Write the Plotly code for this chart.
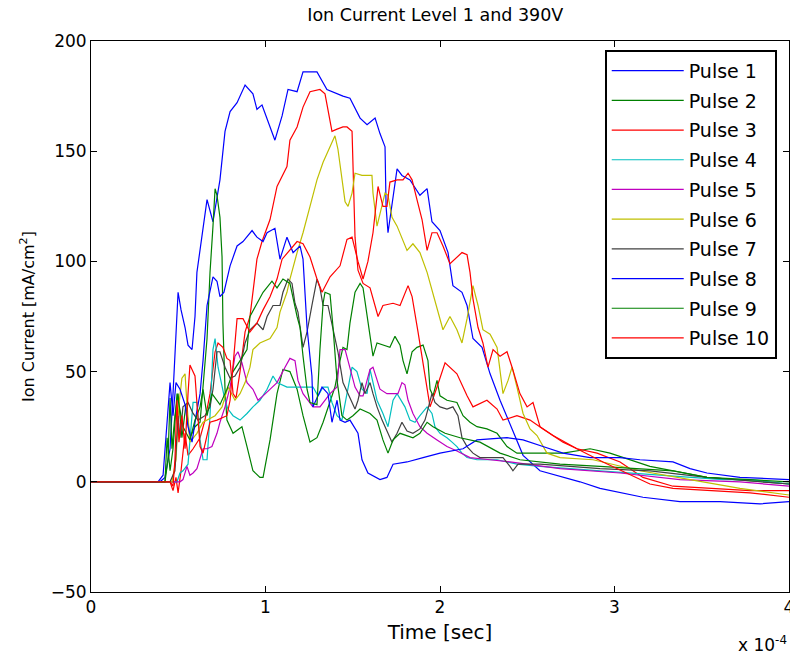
import plotly.graph_objects as go

# time in units of 1e-4 s, current in mA/cm^2
pulse1 = [(0,0),(0.395,0),(0.424,2),(0.453,15),(0.470,40),(0.487,70),(0.499,86),(0.516,78),(0.539,70),(0.556,62),(0.579,60),(0.596,75),(0.607,95),(0.642,115),(0.665,128),(0.699,118),(0.739,137),(0.768,159),(0.797,168),(0.837,172),(0.883,180),(0.928,176),(0.951,169),(0.980,171),(1.009,165),(1.054,155),(1.095,166),(1.129,178),(1.181,177),(1.215,186),(1.295,186),(1.352,178),(1.444,175),(1.484,174),(1.542,165),(1.582,162),(1.628,165),(1.656,158),(1.685,152),(1.691,125),(1.702,113),(1.725,125),(1.754,142),(1.782,139),(1.828,137),(1.885,130),(1.926,133),(1.954,118),(2.000,114),(2.046,104),(2.074,89),(2.126,86),(2.155,80),(2.189,65),(2.241,61),(2.287,49),(2.344,37),(2.413,24),(2.476,12),(2.573,5),(2.705,2),(2.802,0),(2.917,-3),(3.032,-5),(3.163,-7),(3.375,-9),(3.605,-9),(3.834,-10),(4.0,-9)]

pulse2 = [(0,0),(0.424,0),(0.441,10),(0.453,38),(0.464,15),(0.481,30),(0.499,40),(0.521,20),(0.544,35),(0.567,20),(0.596,25),(0.625,27),(0.665,65),(0.682,95),(0.699,116),(0.711,133),(0.722,130),(0.739,120),(0.751,102),(0.756,72),(0.768,42),(0.779,28),(0.814,22),(0.865,25),(0.894,16),(0.928,5),(0.968,2),(0.986,2),(1.026,19),(1.066,40),(1.100,51),(1.140,50),(1.181,42),(1.215,30),(1.255,18),(1.295,20),(1.330,27),(1.370,37),(1.398,43),(1.427,55),(1.444,61),(1.467,60),(1.484,72),(1.513,86),(1.542,90),(1.559,88),(1.582,75),(1.599,65),(1.616,57),(1.639,63),(1.713,61),(1.742,66),(1.771,62),(1.788,55),(1.811,49),(1.840,59),(1.868,61),(1.903,62),(1.931,55),(1.943,42),(1.960,39),(1.983,46),(2.000,39),(2.040,37),(2.097,36),(2.132,30),(2.172,27),(2.212,25),(2.269,24),(2.327,22),(2.384,16),(2.441,13),(2.556,13),(2.705,13),(2.860,15),(2.974,13),(3.203,7),(3.530,2),(4.0,-1)]

pulse3 = [(0,0),(0.453,0),(0.470,-4),(0.487,2),(0.499,-5),(0.516,5),(0.539,22),(0.556,12),(0.585,15),(0.625,20),(0.653,28),(0.682,40),(0.711,59),(0.728,63),(0.756,61),(0.779,56),(0.797,55),(0.814,40),(0.831,38),(0.854,50),(0.883,68),(0.911,75),(0.951,101),(0.980,109),(1.026,119),(1.066,134),(1.123,143),(1.140,155),(1.181,161),(1.215,170),(1.255,177),(1.312,178),(1.341,176),(1.358,168),(1.381,159),(1.410,160),(1.444,161),(1.467,161),(1.496,159),(1.513,111),(1.530,96),(1.559,90),(1.599,88),(1.645,75),(1.673,80),(1.731,81),(1.771,80),(1.817,89),(1.840,84),(1.874,68),(1.914,49),(1.943,34),(1.983,43),(2.029,54),(2.097,49),(2.155,39),(2.189,34),(2.269,37),(2.327,33),(2.361,28),(2.441,30),(2.516,28),(2.590,24),(2.705,18),(2.785,15),(2.900,13),(3.032,9),(3.163,2),(3.335,-2),(3.530,-3),(3.777,-4),(4.0,-4)]

pulse4 = [(0,0),(0.464,0),(0.493,0),(0.510,4),(0.527,5),(0.556,8),(0.573,27),(0.585,36),(0.607,36),(0.625,19),(0.642,10),(0.665,10),(0.682,30),(0.699,60),(0.711,65),(0.728,52),(0.768,37),(0.785,33),(0.814,30),(0.854,28),(0.894,31),(0.928,34),(0.968,37),(1.009,42),(1.043,48),(1.066,45),(1.123,43),(1.181,43),(1.238,43),(1.272,43),(1.301,39),(1.330,43),(1.358,43),(1.381,36),(1.410,30),(1.438,28),(1.467,40),(1.496,52),(1.524,50),(1.553,42),(1.582,40),(1.599,51),(1.639,37),(1.673,31),(1.702,25),(1.731,37),(1.754,40),(1.799,34),(1.828,28),(1.857,27),(1.885,30),(1.926,34),(1.954,31),(1.971,25),(2.000,22),(2.040,20),(2.069,18),(2.097,16),(2.126,13),(2.155,11),(2.212,10),(2.327,10),(2.441,8),(2.573,7),(2.917,5),(3.261,3),(3.622,1),(3.777,1),(4.0,-1)]

pulse5 = [(0,0),(0.510,0),(0.527,1),(0.550,7),(0.567,3),(0.585,4),(0.607,6),(0.625,11),(0.642,15),(0.665,15),(0.693,16),(0.722,22),(0.739,27),(0.768,34),(0.797,43),(0.825,57),(0.842,59),(0.865,54),(0.894,45),(0.928,42),(0.957,37),(0.986,39),(1.026,42),(1.066,45),(1.112,52),(1.140,56),(1.169,55),(1.186,46),(1.215,40),(1.244,37),(1.272,34),(1.312,34),(1.341,37),(1.370,40),(1.410,43),(1.427,60),(1.456,60),(1.484,51),(1.513,43),(1.542,39),(1.559,39),(1.582,46),(1.599,51),(1.616,52),(1.639,46),(1.656,42),(1.696,40),(1.731,40),(1.759,40),(1.782,45),(1.799,44),(1.817,37),(1.845,31),(1.885,25),(1.926,22),(1.983,19),(2.040,16),(2.097,14),(2.172,11),(2.287,10),(2.401,9),(2.688,6),(3.032,4),(3.375,1),(3.719,0),(4.0,-2)]

pulse6 = [(0,0),(0.464,0),(0.487,10),(0.504,35),(0.521,47),(0.539,49),(0.550,35),(0.567,18),(0.607,22),(0.642,27),(0.711,30),(0.751,34),(0.785,43),(0.825,37),(0.854,40),(0.883,45),(0.911,52),(0.928,60),(0.968,63),(1.026,65),(1.066,70),(1.083,77),(1.123,86),(1.140,92),(1.181,104),(1.215,113),(1.255,125),(1.295,137),(1.330,145),(1.370,152),(1.398,157),(1.415,151),(1.438,137),(1.456,127),(1.473,125),(1.496,131),(1.513,140),(1.553,139),(1.610,139),(1.616,131),(1.639,116),(1.656,122),(1.685,131),(1.702,130),(1.725,120),(1.754,116),(1.782,111),(1.811,105),(1.845,108),(1.885,104),(1.926,95),(1.954,87),(1.983,78),(2.017,69),(2.057,75),(2.097,69),(2.126,63),(2.155,74),(2.189,89),(2.218,80),(2.246,69),(2.287,67),(2.327,61),(2.344,51),(2.361,40),(2.390,46),(2.413,52),(2.441,43),(2.476,31),(2.516,24),(2.556,21),(2.613,13),(2.688,11),(2.877,10),(3.146,5),(3.433,1),(3.719,-3),(4.0,-6)]

pulse7 = [(0,0),(0.453,0),(0.481,5),(0.499,30),(0.510,20),(0.527,34),(0.556,36),(0.585,31),(0.613,28),(0.653,30),(0.682,34),(0.699,42),(0.722,59),(0.739,59),(0.768,52),(0.797,47),(0.825,48),(0.854,52),(0.883,63),(0.911,69),(0.951,72),(0.986,69),(1.009,75),(1.043,80),(1.083,80),(1.100,86),(1.129,92),(1.152,90),(1.169,81),(1.186,77),(1.215,61),(1.238,68),(1.266,80),(1.295,92),(1.312,88),(1.330,80),(1.358,80),(1.387,70),(1.415,59),(1.444,45),(1.473,40),(1.496,36),(1.513,33),(1.530,37),(1.553,45),(1.570,40),(1.599,45),(1.616,40),(1.639,34),(1.668,28),(1.685,25),(1.702,22),(1.725,18),(1.754,22),(1.782,27),(1.811,23),(1.845,22),(1.885,24),(1.914,28),(1.931,33),(1.954,40),(1.971,36),(2.000,34),(2.040,33),(2.074,34),(2.103,30),(2.126,20),(2.155,16),(2.189,13),(2.229,11),(2.361,11),(2.401,7),(2.418,5),(2.447,8),(2.573,8),(2.917,6),(3.203,5),(3.530,2),(4.0,-1)]

pulse8 = [(0,0),(0.384,0),(0.413,3),(0.436,25),(0.453,45),(0.470,30),(0.487,45),(0.510,42),(0.539,35),(0.556,25),(0.579,18),(0.602,30),(0.625,40),(0.642,55),(0.665,80),(0.699,93),(0.722,91),(0.739,84),(0.762,86),(0.797,98),(0.837,107),(0.871,109),(0.923,114),(0.951,111),(0.986,109),(1.009,113),(1.054,115),(1.083,101),(1.123,111),(1.158,104),(1.198,107),(1.215,101),(1.238,70),(1.266,48),(1.272,34),(1.324,43),(1.358,40),(1.381,27),(1.410,37),(1.427,28),(1.456,27),(1.484,28),(1.530,22),(1.553,10),(1.587,4),(1.656,1),(1.696,2),(1.731,8),(1.811,9),(1.903,11),(2.000,13),(2.132,15),(2.212,19),(2.384,20),(2.476,19),(2.590,16),(2.705,13),(2.860,11),(3.032,11),(3.146,10),(3.335,9),(3.433,6),(3.530,4),(3.719,2),(4.0,1)]

pulse9 = [(0,0),(0.424,0),(0.436,20),(0.453,5),(0.470,15),(0.493,40),(0.527,25),(0.567,19),(0.596,28),(0.625,34),(0.642,42),(0.665,30),(0.693,40),(0.739,35),(0.779,42),(0.814,50),(0.871,57),(0.894,60),(0.911,75),(0.951,81),(0.986,86),(1.037,91),(1.066,88),(1.100,92),(1.140,90),(1.181,75),(1.198,70),(1.215,57),(1.238,42),(1.255,36),(1.295,35),(1.312,60),(1.330,81),(1.341,86),(1.370,85),(1.387,70),(1.410,46),(1.438,30),(1.467,28),(1.501,30),(1.542,33),(1.599,31),(1.639,28),(1.673,19),(1.702,13),(1.731,19),(1.771,22),(1.845,20),(1.885,22),(1.926,27),(1.960,25),(2.029,22),(2.115,20),(2.229,18),(2.344,13),(2.458,10),(2.688,8),(2.917,7),(3.146,6),(3.335,5),(3.530,2),(4.0,0)]

pulse10 = [(0,0),(0.453,0),(0.470,-2),(0.481,10),(0.493,37),(0.504,18),(0.521,30),(0.539,15),(0.556,40),(0.567,53),(0.596,48),(0.613,30),(0.625,16),(0.642,13),(0.682,27),(0.722,28),(0.779,30),(0.797,37),(0.814,52),(0.837,74),(0.871,74),(0.911,68),(0.951,72),(0.986,78),(1.026,84),(1.066,92),(1.095,101),(1.129,104),(1.181,109),(1.215,108),(1.255,102),(1.295,92),(1.324,86),(1.370,93),(1.427,98),(1.467,110),(1.496,111),(1.530,100),(1.559,92),(1.587,100),(1.616,113),(1.645,134),(1.673,125),(1.696,125),(1.713,136),(1.754,137),(1.788,137),(1.817,140),(1.840,137),(1.868,128),(1.897,119),(1.926,105),(1.954,113),(1.983,113),(2.017,107),(2.057,99),(2.097,102),(2.126,104),(2.155,103),(2.172,95),(2.189,83),(2.218,70),(2.246,63),(2.275,52),(2.304,60),(2.344,57),(2.384,59),(2.413,52),(2.458,40),(2.499,34),(2.533,36),(2.573,25),(2.648,21),(2.785,15),(2.934,9),(3.072,4),(3.203,-1),(3.335,-3),(3.530,-4),(3.777,-5),(4.0,-7)]

series_names = ["Pulse 1", "Pulse 2", "Pulse 3", "Pulse 4", "Pulse 5",
                "Pulse 6", "Pulse 7", "Pulse 8", "Pulse 9", "Pulse 10"]
series_data = [pulse1, pulse2, pulse3, pulse4, pulse5,
               pulse6, pulse7, pulse8, pulse9, pulse10]
colors = ["#0000FF", "#008000", "#FF0000", "#00BFBF", "#BF00BF",
          "#BFBF00", "#404040", "#0000FF", "#008000", "#FF0000"]

time_scale = 1e-4
x_ticks = [0, 1, 2, 3, 4]
y_ticks = [-50, 0, 50, 100, 150, 200]

FONT = "DejaVu Sans"

fig = go.Figure()
for i, (name, data, col) in enumerate(zip(series_names, series_data, colors)):
    fig.add_trace(go.Scatter(
        x=[p[0] * time_scale for p in data],
        y=[p[1] for p in data],
        mode="lines", name=name,
        line=dict(color=col, width=1.2),
        legendgroup=f"g{i}",
    ))

fig.update_layout(
    width=790, height=657,
    margin=dict(l=91, r=1, t=41, b=65, autoexpand=False),
    paper_bgcolor="white", plot_bgcolor="white",
    font=dict(family=FONT, size=17, color="black"),
    title=dict(text="Ion Current Level 1 and 390V", x=0.551, xanchor="center",
               y=1 - 15 / 657, yanchor="middle", font=dict(size=17.5, family=FONT)),
    showlegend=True,
    legend=dict(x=0.736, y=0.984, xanchor="left", yanchor="top",
                bgcolor="white", bordercolor="black", borderwidth=2,
                font=dict(size=19, family=FONT),
                traceorder="grouped", tracegroupgap=2, itemwidth=72),
)
fig.update_xaxes(
    range=[0, 4 * time_scale],
    tickvals=[v * time_scale for v in x_ticks],
    ticktext=[str(v) for v in x_ticks],
    ticks="inside", ticklen=6, tickcolor="black", ticklabeloverflow="allow",
    showline=True, linecolor="black", linewidth=1, mirror="allticks",
    showgrid=False, zeroline=False, automargin=False,
    title=dict(text="Time [sec]", standoff=8),
)
fig.update_yaxes(
    range=[-50, 200], tickvals=y_ticks,
    ticks="inside", ticklen=6, tickcolor="black",
    showline=True, linecolor="black", linewidth=1, mirror="allticks",
    showgrid=False, zeroline=False, automargin=False,
    title=dict(text="Ion Current [mA/cm<sup>2</sup>]", standoff=12,
               font=dict(size=16)),
)
fig.add_annotation(text="x 10<sup>-4</sup>", xref="paper", yref="paper",
                   x=1.0, y=-0.095, xanchor="right", yanchor="middle",
                   showarrow=False, font=dict(size=17, family=FONT))

fig.write_html("out.html")
